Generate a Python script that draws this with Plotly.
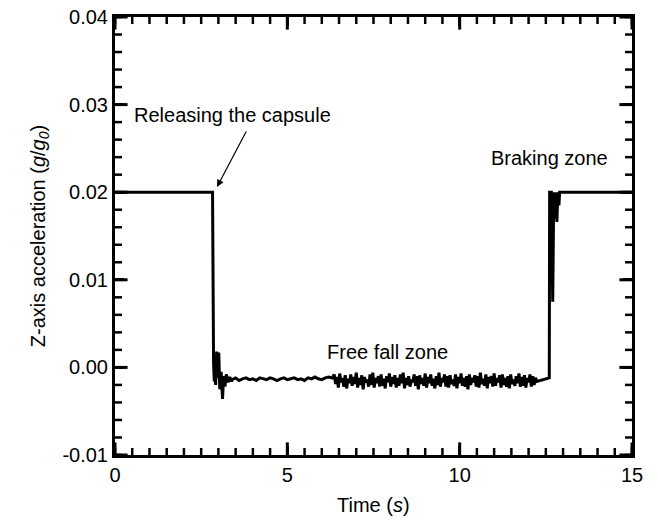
import plotly.graph_objects as go

# --- Z-axis acceleration record of the drop capsule ---------------------
# Hold phase before release (g/g0)
t_hold = [0.0, 2.83]
a_hold = [0.0200, 0.0200]

# Release transient
t_release = [2.86, 2.88, 2.90, 2.92, 2.95, 2.98, 3.01, 3.04, 3.08, 3.12,
             3.15, 3.19, 3.23, 3.28, 3.33, 3.38]
a_release = [0.0005, -0.0016, 0.0010, -0.0020, 0.0018, -0.0012, 0.0017,
             -0.0025, -0.0005, -0.0036, -0.0010, -0.0022, -0.0008,
             -0.0017, -0.0011, -0.0016]

# Quiet early free fall, sampled every 0.1 s (units of 1e-4 g/g0)
t_quiet = [3.4, 3.5, 3.6, 3.7, 3.8, 3.9, 4.0, 4.1, 4.2, 4.3,
           4.4, 4.5, 4.6, 4.7, 4.8, 4.9, 5.0, 5.1, 5.2, 5.3,
           5.4, 5.5, 5.6, 5.7, 5.8, 5.9, 6.0, 6.1, 6.2, 6.3]
a_quiet_e4 = [-14, -12, -15, -13, -12, -14, -13, -15, -12, -13,
              -14, -12, -13, -15, -13, -12, -14, -13, -12, -14,
              -13, -15, -12, -13, -11, -13, -14, -12, -11, -12]

# Later free fall with stronger vibration, sampled every 0.04 s (1e-4 g/g0)
t_noisy_start = 6.36
t_noisy_step = 0.04
a_noisy_e4 = [
    -8, -19, -11, -23, -7, -17, -12, -22, -9, -24,
    -13, -18, -8, -21, -11, -19, -6, -23, -12, -20,
    -9, -25, -11, -17, -14, -22, -8, -20, -6, -23,
    -12, -18, -10, -22, -8, -21, -13, -24, -10, -17,
    -7, -22, -11, -19, -9, -23, -12, -21, -8, -18,
    -6, -24, -12, -20, -10, -22, -14, -17, -8, -21,
    -10, -25, -9, -19, -12, -21, -7, -23, -11, -18,
    -8, -21, -13, -24, -10, -20, -6, -22, -12, -17,
    -8, -22, -10, -23, -9, -19, -14, -21, -8, -24,
    -11, -18, -7, -21, -12, -22, -10, -25, -8, -20,
    -12, -17, -9, -22, -10, -23, -6, -19, -13, -21,
    -8, -24, -11, -18, -10, -22, -7, -21, -12, -17,
    -9, -23, -8, -20, -12, -22, -10, -24, -8, -19,
    -14, -21, -10, -18, -7, -22, -11, -21, -9, -23,
    -12, -17, -8, -22, -10, -20, -12, -16]

# Braking: return to the 0.02 level with short dips
t_brake = [12.60, 12.61, 12.66, 12.70, 12.73, 12.76, 12.79, 12.82, 12.85,
           12.88, 12.90, 15.0]
a_brake = [-0.0012, 0.0200, 0.0200, 0.0075, 0.0200, 0.0170, 0.0200,
           0.0166, 0.0200, 0.0185, 0.0200, 0.0200]

# Axis ticks
x_ticks = [0, 5, 10, 15]
x_minor_step = 0.5
y_ticks = [-0.01, 0.00, 0.01, 0.02, 0.03, 0.04]
y_tick_text = ["-0.01", "0.00", "0.01", "0.02", "0.03", "0.04"]
y_minor_step = 0.002

# Assemble the full trace
t_noisy = [round(t_noisy_start + i * t_noisy_step, 3) for i in range(len(a_noisy_e4))]
t = t_hold + t_release + t_quiet + t_noisy + t_brake
a = (a_hold + a_release + [v * 1e-4 for v in a_quiet_e4]
     + [v * 1e-4 for v in a_noisy_e4] + a_brake)

FS = 20
x0, x1 = x_ticks[0], x_ticks[-1]
y0, y1 = y_ticks[0], y_ticks[-1]

fig = go.Figure()
fig.add_trace(go.Scatter(x=t, y=a, mode="lines",
                         line=dict(color="black", width=3),
                         showlegend=False))

# Inward tick marks on all four frame sides, drawn as clipped line markers
n_xm = int(round((x1 - x0) / x_minor_step)) + 1
n_ym = int(round((y1 - y0) / y_minor_step)) + 1
x_minor = [x0 + i * x_minor_step for i in range(n_xm)]
y_minor = [y0 + i * y_minor_step for i in range(n_ym)]


def tick_marks(xs, ys, symbol, size, width):
    fig.add_trace(go.Scatter(
        x=xs, y=ys, mode="markers", cliponaxis=True, showlegend=False,
        hoverinfo="skip",
        marker=dict(symbol=symbol, size=size, color="black",
                    line=dict(color="black", width=width)),
    ))


for yv in (y0, y1):
    tick_marks(x_minor, [yv] * len(x_minor), "line-ns", 10, 2.5)
    tick_marks(x_ticks, [yv] * len(x_ticks), "line-ns", 18, 3)
for xv in (x0, x1):
    tick_marks([xv] * len(y_minor), y_minor, "line-ew", 10, 2.5)
    tick_marks([xv] * len(y_ticks), y_ticks, "line-ew", 18, 3)

fig.update_xaxes(
    range=[x0, x1], tickmode="linear", tick0=x0, dtick=x_ticks[1] - x_ticks[0],
    showline=True, linecolor="black", linewidth=3, mirror="ticks",
    ticks="inside", ticklen=9, tickwidth=3, tickcolor="black",
    showgrid=False, zeroline=False,
)
# d3 formatting writes negatives with U+2212; show them with a plain hyphen
y_alias = {f"{v:.2f}".replace("-", "\u2212"): s for v, s in zip(y_ticks, y_tick_text)}
fig.update_yaxes(
    range=[y0, y1], tickmode="linear", tick0=y0,
    dtick=round(y_ticks[1] - y_ticks[0], 4),
    tickformat=".2f", labelalias=y_alias,
    showline=True, linecolor="black", linewidth=3, mirror="ticks",
    ticks="inside", ticklen=9, tickwidth=3, tickcolor="black",
    showgrid=False, zeroline=False, automargin=False,
    title=dict(text="Z-axis acceleration (<i>g</i>/<i>g</i><sub><i>0</i></sub>)",
               font=dict(size=FS), standoff=12),
)

# Horizontal axis title
fig.add_annotation(xref="paper", yref="paper", x=0.5, y=-0.114, yanchor="middle",
                   text="Time (<i>s</i>)", showarrow=False)

# Zone labels
fig.add_annotation(x=3.42, y=0.0288, text="Releasing the capsule", showarrow=False)
fig.add_annotation(x=2.96, y=0.0206, ax=3.83, ay=0.0271, axref="x", ayref="y",
                   text="", showarrow=True, arrowhead=2, arrowsize=1.2,
                   arrowwidth=1.2, arrowcolor="black")
fig.add_annotation(x=7.92, y=0.0018, text="Free fall zone", showarrow=False)
fig.add_annotation(x=12.62, y=0.0239, text="Braking zone", showarrow=False)

fig.update_layout(
    width=658, height=521,
    margin=dict(l=115, r=26, t=17, b=66),
    paper_bgcolor="white", plot_bgcolor="white",
    font=dict(family="Liberation Sans, Arial, sans-serif", size=FS, color="black"),
)

fig.write_html("out.html")
